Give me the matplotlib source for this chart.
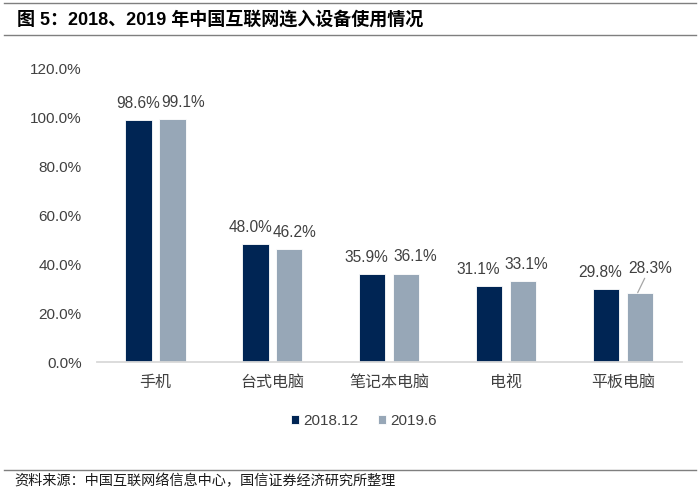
import matplotlib
matplotlib.use("Agg")
import matplotlib.pyplot as plt
from matplotlib.lines import Line2D
import numpy as np

plt.rcParams['font.family'] = ['Liberation Sans', 'Noto Sans CJK SC', 'DejaVu Sans']

# data
categories = ['手机', '台式电脑', '笔记本电脑', '电视', '平板电脑']
series_names = ['2018.12', '2019.6']
v2018 = [98.6, 48.0, 35.9, 31.1, 29.8]
v2019 = [99.1, 46.2, 36.1, 33.1, 28.3]
yticks = [0, 20, 40, 60, 80, 100, 120]

title = '图 5：2018、2019 年中国互联网连入设备使用情况'
source = '资料来源：中国互联网络信息中心，国信证券经济研究所整理'

# colours / label nudges (pixels, as placed in the original)
c_dark = '#002554'
c_gray = '#97A7B7'
txt_col = '#404040'
dx_2018 = [0, -5, -6, -11, -6]
dx_2019 = [11, 5, 9, 3, 12]
dy_2019 = [0, 0, 0, 0, 4]

fig = plt.figure(figsize=(7, 4.94), dpi=100)
ax = fig.add_axes([0.1386, 0.2672, 0.835, 0.5951])

x = np.arange(len(categories))
w = 0.225
off = 0.145
b1 = ax.bar(x - off, v2018, w, color=c_dark, edgecolor='white', linewidth=0.6, label=series_names[0])
b2 = ax.bar(x + off, v2019, w, color=c_gray, edgecolor='white', linewidth=0.6, label=series_names[1])

px = 0.72  # points per pixel
for i in range(len(categories)):
    ax.annotate(f'{v2018[i]:.1f}%', (x[i] - off, v2018[i]), xytext=(dx_2018[i] * px, 12),
                textcoords='offset points', ha='center', va='center', fontsize=11.2, color=txt_col)
    if dy_2019[i]:
        ax.annotate(f'{v2019[i]:.1f}%', (x[i] + off - 0.02, v2019[i]),
                    xytext=(dx_2019[i] * px, 12 + (dy_2019[i] + 4) * px),
                    textcoords='offset points', ha='center', va='center', fontsize=11.2, color=txt_col,
                    arrowprops=dict(arrowstyle='-', color='#A6A6A6', lw=0.9, shrinkA=0, shrinkB=0))
    else:
        ax.annotate(f'{v2019[i]:.1f}%', (x[i] + off, v2019[i]), xytext=(dx_2019[i] * px, 12),
                    textcoords='offset points', ha='center', va='center', fontsize=11.2, color=txt_col)

ax.set_xlim(-0.5, len(categories) - 0.5)
ax.set_ylim(0, 120)
ax.set_yticks(yticks)
ax.set_yticklabels([f'{t:.1f}%' for t in yticks], fontsize=11, color=txt_col)
ax.set_xticks(x)
ax.set_xticklabels(categories, fontsize=11.5, color=txt_col)
ax.tick_params(axis='y', length=0, pad=11)
ax.tick_params(axis='x', length=0, pad=9)
for s in ['top', 'right', 'left']:
    ax.spines[s].set_visible(False)
ax.spines['bottom'].set_color('#D9D9D9')
ax.spines['bottom'].set_linewidth(1.3)

fig.legend(handles=[b1, b2], loc='center', bbox_to_anchor=(0.52, 0.148), ncol=2, frameon=False,
           fontsize=11, handlelength=0.5, handleheight=0.5, handletextpad=0.3, columnspacing=1.3,
           labelcolor=txt_col)

# header and footer
fig.add_artist(Line2D([0.006, 0.994], [0.994, 0.994], color='#7F7F7F', lw=1.0))
fig.add_artist(Line2D([0.006, 0.994], [0.929, 0.929], color='#7F7F7F', lw=1.0))
fig.text(0.024, 0.961, title, fontsize=13, fontweight='bold', va='center', ha='left', color='black')
fig.add_artist(Line2D([0.006, 0.994], [0.049, 0.049], color='#7F7F7F', lw=1.0))
fig.text(0.021, 0.026, source, fontsize=10.2, va='center', ha='left', color='#1a1a1a',
         family=['Noto Sans CJK SC'])

fig.savefig('out.png', dpi=100)
